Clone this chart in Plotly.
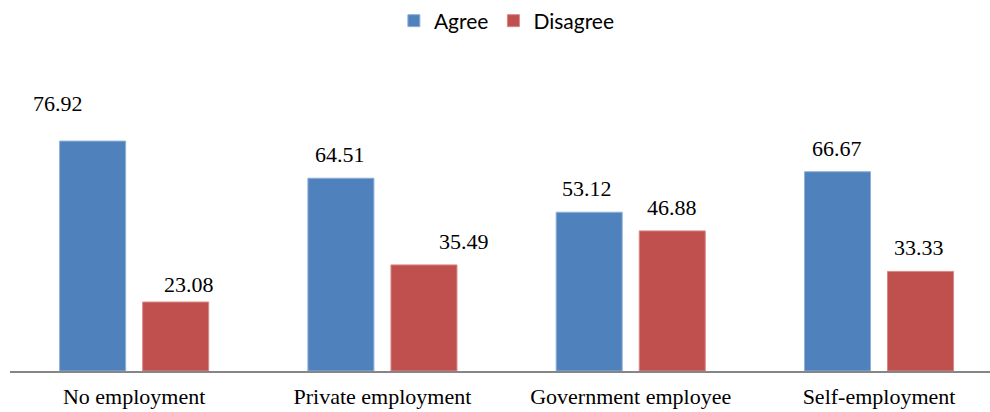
import plotly.graph_objects as go

# Survey responses by employment status (percent)
categories = ["No employment", "Private employment", "Government employee", "Self-employment"]
agree = [76.92, 64.51, 53.12, 66.67]
disagree = [23.08, 35.49, 46.88, 33.33]

BLUE = "#4F81BD"
RED = "#C0504D"
SERIF = "'Liberation Serif', 'Times New Roman', Times, serif"

fig = go.Figure()
fig.add_trace(go.Bar(name="Agree", x=categories, y=agree,
                     marker=dict(color=BLUE, line=dict(color="#8DB0DA", width=1))))
fig.add_trace(go.Bar(name="Disagree", x=categories, y=disagree,
                     marker=dict(color=RED, line=dict(color="#D98886", width=1))))

# value labels above each bar; a few are nudged sideways / upward
half_slot = 0.167
agree_shift = [(-35, 23), (-1, 9), (-2, 9), (-1, 9)]
disagree_shift = [(13, 3), (40, 9), (0, 9), (-1, 9)]
for i, (a, d) in enumerate(zip(agree, disagree)):
    for val, side, (dx, dy) in ((a, -1, agree_shift[i]), (d, 1, disagree_shift[i])):
        fig.add_annotation(x=i + side * half_slot, y=val, text=f"{val:.2f}",
                           showarrow=False, xref="x", yref="y",
                           yanchor="bottom", xanchor="center",
                           xshift=dx, yshift=dy,
                           font=dict(family=SERIF, size=22, color="#000000"))

fig.update_layout(
    width=990, height=412,
    margin=dict(l=10, r=0, t=102, b=41),
    paper_bgcolor="white", plot_bgcolor="white",
    font=dict(family=SERIF),
    barmode="group", bargap=0.331, bargroupgap=0.205,
    showlegend=True,
    legend=dict(orientation="h", xref="container", yref="container",
                x=0.512, y=0.949, xanchor="center", yanchor="middle",
                font=dict(family="Lato", size=21, color="#000000"),
                itemwidth=30, traceorder="normal"),
    xaxis=dict(type="category", range=[-0.5, 3.447], showgrid=False,
               showline=True, linecolor="#868686", linewidth=2,
               ticks="", ticklabelstandoff=5,
               tickfont=dict(family=SERIF, size=22, color="#000000")),
    yaxis=dict(range=[0, 90], visible=False, showgrid=False, zeroline=False),
)

fig.write_html("out.html")
